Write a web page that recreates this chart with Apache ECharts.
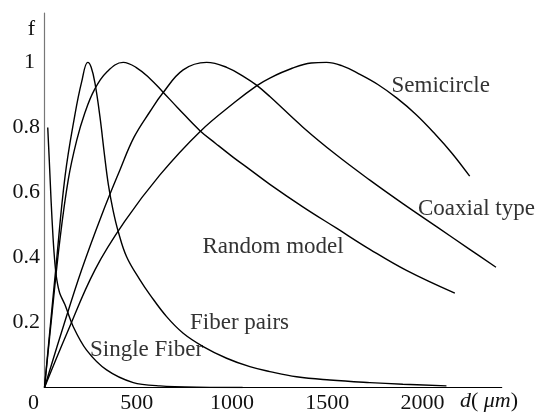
<!DOCTYPE html>
<html>
<head>
<meta charset="utf-8">
<script src="https://cdn.jsdelivr.net/npm/echarts@6/dist/echarts.min.js"></script>
<style>html,body{margin:0;padding:0;background:#fff}#c{width:539px;height:416px}</style>
</head>
<body>
<div id="c"></div>
<script>
// ---- data ----
const xTicks = [0, 500, 1000, 1500, 2000];
const yTicks = [0.2, 0.4, 0.6, 0.8, 1];

const singleFiberD = [17, 25, 35, 45, 55, 65, 80, 107, 151, 221, 326, 466, 606, 800, 1040];
const singleFiberF = [0.80, 0.70, 0.57, 0.46, 0.38, 0.33, 0.29, 0.255, 0.187, 0.115, 0.054, 0.015, 0.005, 0.001, 0.0];

const fiberPairsD = [0, 60, 108, 160, 195, 227, 245, 265, 291, 315, 335, 360, 387, 431, 501, 554, 641, 728, 833, 956, 1078, 1183, 1323, 1498, 1708, 1881, 2110];
const fiberPairsF = [0, 0.37, 0.65, 0.84, 0.94, 1.0, 0.985, 0.936, 0.833, 0.715, 0.625, 0.545, 0.48, 0.402, 0.331, 0.285, 0.218, 0.167, 0.126, 0.09, 0.064, 0.049, 0.033, 0.023, 0.015, 0.010, 0.005];

const randomD = [0, 40, 80, 125, 169, 212, 261, 326, 413, 480, 554, 620, 700, 816, 900, 991, 1061, 1183, 1358, 1533, 1708, 1900, 2154];
const randomF = [0, 0.23, 0.45, 0.64, 0.76, 0.845, 0.915, 0.97, 1.0, 0.985, 0.95, 0.91, 0.86, 0.79, 0.75, 0.708, 0.678, 0.625, 0.555, 0.49, 0.425, 0.36, 0.29];

const coaxialD = [0, 100, 195, 300, 396, 470, 554, 620, 728, 851, 956, 1050, 1113, 1183, 1358, 1533, 1708, 1883, 2058, 2232, 2370];
const coaxialF = [0, 0.19, 0.362, 0.53, 0.669, 0.77, 0.849, 0.905, 0.977, 1.0, 0.985, 0.955, 0.93, 0.895, 0.80, 0.715, 0.638, 0.565, 0.495, 0.425, 0.37];

const semicircleD = [0, 120, 265, 420, 606, 816, 1000, 1113, 1183, 1300, 1400, 1480, 1560, 1650, 1750, 1850, 1950, 2050, 2140, 2232];
const semicircleF = [0, 0.17, 0.362, 0.51, 0.654, 0.787, 0.878, 0.928, 0.952, 0.982, 0.998, 1.0, 0.99, 0.965, 0.932, 0.89, 0.84, 0.78, 0.72, 0.65];

const curveNames = ['Single Fiber', 'Fiber pairs', 'Random model', 'Coaxial type', 'Semicircle'];

function pairs(d, f) { return d.map((v, i) => [v, f[i]]); }

const FONT = 'Liberation Serif';
const chart = echarts.init(document.getElementById('c'), null, { renderer: 'canvas' });

const lineStyle = { color: '#000', width: 1.4 };
function mk(name, d, f, smooth) {
  return {
    name, type: 'line', data: pairs(d, f), showSymbol: false, symbol: 'none',
    smooth: smooth, lineStyle: lineStyle, silent: true, z: 3
  };
}

function lbl(text, x, y) {
  return { type: 'text', silent: true, style: { text, x, y, fontFamily: FONT, fontSize: 23, fill: '#333', align: 'left', verticalAlign: 'middle' } };
}

chart.setOption({
  animation: false,
  backgroundColor: '#fff',
  grid: { left: 44.5, right: 37.3, top: 13, bottom: 28.5, containLabel: false, outerBoundsMode: 'none' },
  xAxis: {
    type: 'value', min: 0, max: 2400, interval: 500,
    axisLine: { show: true, lineStyle: { color: '#000', width: 1.2 } },
    axisTick: { show: false }, splitLine: { show: false },
    axisLabel: {
      margin: 5, fontFamily: FONT, fontSize: 22, color: '#111',
      padding: [0, 6, 0, 0],
      formatter: v => (xTicks.indexOf(v) < 0 ? '' : (v === 0 ? '{z|0}' : String(v))),
      rich: { z: { fontFamily: FONT, fontSize: 22, color: '#111', padding: [0, 16, 0, 0] } }
    }
  },
  yAxis: {
    type: 'value', min: 0, max: 1.152, interval: 0.2,
    axisLine: { show: true, lineStyle: { color: '#777', width: 1.2 } },
    axisTick: { show: false }, splitLine: { show: false },
    axisLabel: {
      margin: 4.5, fontFamily: FONT, fontSize: 22, color: '#111',
      formatter: v => {
        const t = yTicks.find(y => Math.abs(y - v) < 1e-6);
        if (t === undefined) return '';
        return t === 1 ? '{o|1}' : t.toFixed(1);
      },
      rich: { o: { fontFamily: FONT, fontSize: 22, color: '#111', padding: [0, 5, 0, 0] } }
    }
  },
  series: [
    mk(curveNames[0], singleFiberD, singleFiberF, 0.3),
    mk(curveNames[1], fiberPairsD, fiberPairsF, 0.4),
    mk(curveNames[2], randomD, randomF, 0.4),
    mk(curveNames[3], coaxialD, coaxialF, 0.4),
    mk(curveNames[4], semicircleD, semicircleF, 0.4)
  ],
  graphic: [
    { type: 'text', silent: true, style: { text: 'f', x: 31.5, y: 29.5, fontFamily: FONT, fontSize: 22, fill: '#111', align: 'center', verticalAlign: 'middle' } },
    lbl(curveNames[4], 391.5, 85.5),
    lbl(curveNames[3], 418, 208.5),
    lbl(curveNames[2], 202.5, 246.5),
    lbl(curveNames[1], 190, 322.5),
    lbl(curveNames[0], 90, 349.5),
    { type: 'text', silent: true, style: { text: '{i|d}( {i|\u03bcm})', x: 460, y: 401, fontFamily: FONT, fontSize: 22, fill: '#111', align: 'left', verticalAlign: 'middle',
      rich: { i: { fontFamily: FONT, fontSize: 22, fontStyle: 'italic', fill: '#111' } } } }
  ]
});
</script>
</body>
</html>
